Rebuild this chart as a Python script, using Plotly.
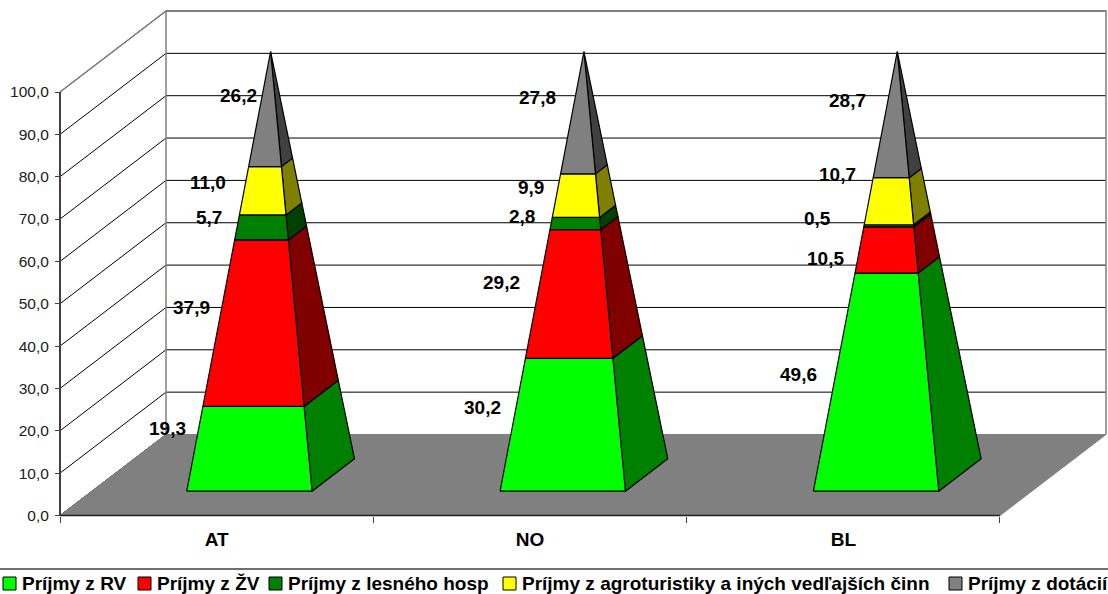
import numpy as np
import plotly.graph_objects as go

# ---- data ----
categories = ["AT", "NO", "BL"]
series_names = ["Príjmy z RV", "Príjmy z ŽV", "Príjmy z lesného hosp",
                "Príjmy z agroturistiky a iných vedľajších činn", "Príjmy z dotácií"]
prijmy_rv = [19.3, 30.2, 49.6]
prijmy_zv = [37.9, 29.2, 10.5]
prijmy_les = [5.7, 2.8, 0.5]
prijmy_agro = [11.0, 9.9, 10.7]
prijmy_dot = [26.2, 27.8, 28.7]
y_ticks = [0, 10, 20, 30, 40, 50, 60, 70, 80, 90, 100]

# ---- styles and layout ----
W, H = 1108, 594
X0, Y0 = 60.0, 515.5          # pixel position of the chart origin
CAT_PX, VAL_PX = 313.33, 4.235  # pixels per category / per percentage point
DEPTH_X, DEPTH_Y = 106 / CAT_PX, 81 / VAL_PX
front_cols = ["#00FF00", "#FF0000", "#008000", "#FFFF00", "#808080"]
side_cols = ["#008000", "#800000", "#004000", "#808000", "#404040"]
C0, C1, D0, D1 = 0.303, 0.703, 0.3, 0.7
label_px = [
    [(167, 428), (482, 407), (798, 374)],
    [(191, 307), (501, 282), (825, 258)],
    [(209, 217), (522, 216), (817, 218)],
    [(208, 182), (531, 187), (837, 174)],
    [(238, 95), (537, 97), (847, 100)],
]
swatch_x = [9.5, 144.5, 275.5, 509.5, 955.5]
legend_text_x = [21, 156, 287, 521, 967]
FONT = "Liberation Sans, Arial, sans-serif"


def px_x(p):
    return (p - X0) / CAT_PX


def px_y(p):
    return (Y0 - p) / VAL_PX


def proj(c, d, v):
    """Oblique projection of category position, depth and value."""
    return c + d * DEPTH_X, v + d * DEPTH_Y


def poly(points, fill, line="black", width=1.2):
    xs, ys = zip(*[proj(*p) for p in points])
    return go.Scatter(x=list(xs) + [xs[0]], y=list(ys) + [ys[0]], mode="lines",
                      fill="toself", fillcolor=fill,
                      line=dict(color=line, width=width), hoverinfo="skip", showlegend=False)


def seg(points, color, width=1):
    xs, ys = zip(*[proj(*p) for p in points])
    return go.Scatter(x=xs, y=ys, mode="lines", line=dict(color=color, width=width),
                      hoverinfo="skip", showlegend=False)


series = [prijmy_rv, prijmy_zv, prijmy_les, prijmy_agro, prijmy_dot]
n = len(categories)
fig = go.Figure()

# grid on side wall and back wall
for v in y_ticks:
    fig.add_trace(seg([(0, 0, v), (0, 1, v), (n, 1, v)], "black", 1))

# floor
fig.add_trace(poly([(0, 0, 0), (n, 0, 0), (n, 1, 0), (0, 1, 0)], "#808080", "#808080", 1))
# wall frame
fig.add_trace(seg([(0, 0, 100), (0, 1, 100), (n, 1, 100), (n, 1, 0)], "#808080", 1.5))
fig.add_trace(seg([(0, 1, 0), (0, 1, 100)], "#808080", 1.5))


def corner(c, d, t, i):
    """Point on a pyramid edge at fraction t of its height."""
    cm, dm = (C0 + C1) / 2, (D0 + D1) / 2
    return (i + cm + (c - cm) * (1 - t), dm + (d - dm) * (1 - t), 100 * t)


for i in range(n):
    vals = [s[i] for s in series]
    cum = np.cumsum([0] + vals) / sum(vals)
    for k in range(len(vals)):
        t0, t1 = float(cum[k]), float(cum[k + 1])
        fig.add_trace(poly([corner(C1, D0, t0, i), corner(C1, D1, t0, i),
                            corner(C1, D1, t1, i), corner(C1, D0, t1, i)], side_cols[k]))
        fig.add_trace(poly([corner(C0, D0, t0, i), corner(C1, D0, t0, i),
                            corner(C1, D0, t1, i), corner(C0, D0, t1, i)], front_cols[k]))

# axis lines and floor front edge
fig.add_trace(seg([(0, 0, 0), (n, 0, 0)], "#202020", 1.5))
fig.add_trace(seg([(0, 0, 0), (0, 0, 100)], "#404040", 2))

# legend swatches
for k in range(len(series)):
    fig.add_trace(go.Scatter(x=[px_x(swatch_x[k])], y=[px_y(583.5)], mode="markers",
                             marker=dict(symbol="square", size=13, color=front_cols[k],
                                         line=dict(color="black", width=1)),
                             hoverinfo="skip", showlegend=False, cliponaxis=False))

ann = []
for k, s in enumerate(series):
    for i, v in enumerate(s):
        px, py = label_px[k][i]
        ann.append(dict(x=px_x(px), y=px_y(py), xref="x", yref="y", showarrow=False,
                        text=f"{v:.1f}".replace(".", ","),
                        font=dict(family=FONT, size=19, color="black", weight="bold"),
                        xanchor="center", yanchor="middle"))
    ann.append(dict(x=legend_text_x[k] / W, y=1 - 583 / H, xref="paper", yref="paper",
                    showarrow=False, text=series_names[k], xanchor="left", yanchor="middle",
                    align="left", borderpad=0,
                    font=dict(family=FONT, size=19, color="black", weight="bold")))

fig.update_layout(
    width=W, height=H, autosize=False, margin=dict(l=0, r=0, t=0, b=0),
    paper_bgcolor="white", plot_bgcolor="white", showlegend=False,
    annotations=ann,
    shapes=[dict(type="line", xref="paper", yref="paper", x0=0, x1=1,
                 y0=1 - 569 / H, y1=1 - 569 / H, line=dict(color="#707070", width=2))],
    xaxis=dict(range=[px_x(0), px_x(W)], domain=[0, 1], anchor="free", position=1 - Y0 / H,
               tickmode="array", tickvals=[i + 0.5 for i in range(n)], ticktext=categories,
               ticks="", showgrid=False, zeroline=False, showline=False,
               ticklabelstandoff=10,
               tickfont=dict(family=FONT, size=19, color="black", weight="bold"),
               minor=dict(tickmode="array", tickvals=list(range(n + 1)), ticks="outside",
                          ticklen=6, tickcolor="#404040", tickwidth=1, showgrid=False)),
    yaxis=dict(range=[px_y(H), px_y(0)], domain=[0, 1], anchor="free", position=X0 / W,
               tickmode="array", tickvals=y_ticks,
               ticktext=[f"{v:.1f}".replace(".", ",") for v in y_ticks],
               ticks="outside", ticklen=5, tickcolor="#404040", tickwidth=1,
               showgrid=False, zeroline=False, showline=False, ticklabelstandoff=3,
               tickfont=dict(family=FONT, size=15.5, color="#202020")),
)
fig.write_html("out.html", config=dict(displayModeBar=False),
               post_script="document.body.style.margin='0';document.body.style.overflow='hidden';")
